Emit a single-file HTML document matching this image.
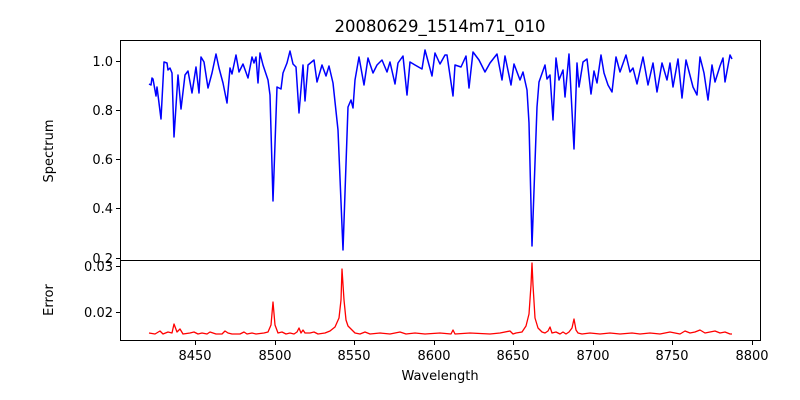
<!DOCTYPE html>
<html><head><meta charset="utf-8"><style>body{margin:0;background:#fff}svg{display:block;font-family:"DejaVu Sans","Liberation Sans",sans-serif}</style></head><body>
<svg width="800" height="400" viewBox="0 0 800 400" xmlns="http://www.w3.org/2000/svg">
<text x="440" y="32" font-size="16.5" text-anchor="middle">20080629_1514m71_010</text>
<polyline fill="none" stroke="#0000ff" stroke-width="1.5" stroke-linejoin="round" points="149,84 151,85 152,78 153,79 156,96 157,87 161,119 164,62 167,63 168,70 170,68 172,73 174,137 178,75 181,109 185,75 188,71 192,93 196,67 199,93 201,57 204,62 208,88 212,73 216,54 219,68 223,83 227,103 230,68 232,74 236,55 239,72 243,64 248,78 252,57 254,63 256,57 258,83 260,53 263,65 268,80 270,95 273,201 277,87 281,89 283,73 287,63 290,51 293,64 296,67 299,113 303,65 305,101 308,65 314,60 317,82 322,65 326,76 329,66 333,83 338,130 343,250 348,107 351,100 353,108 355,80 359,57 364,85 368,58 373,73 377,65 382,60 387,72 390,62 395,84 398,63 403,56 407,95 410,62 415,65 422,69 425,50 432,76 435,53 440,64 445,55 447,55 453,96 455,65 461,67 466,56 469,88 473,52 479,60 485,72 490,63 497,54 502,80 505,56 511,85 514,64 520,80 523,72 527,90 529,123 532,246 537,107 539,82 545,65 547,79 550,75 553,120 556,58 559,80 563,70 565,97 569,54 574,149 577,63 579,87 583,62 587,59 591,94 594,71 597,83 601,55 604,73 608,85 612,92 616,57 620,72 626,55 630,72 633,68 637,84 643,57 648,85 653,63 657,92 662,63 667,80 670,63 673,87 678,59 682,98 686,60 693,87 697,95 700,57 704,73 708,100 712,65 715,82 720,66 723,58 725,82 730,55 732,59"/>
<polyline fill="none" stroke="#ff0000" stroke-width="1.3" stroke-linejoin="round" points="149,333 155,334 160,331 163,334 168,332 172,333 174,324 177,332 180,329 183,334 190,333 194,332 198,334 202,333 207,334 210,332 216,334 222,334 225,331 228,333 232,334 240,334 244,332 247,334 252,333 256,334 264,333 268,332 271,325 273,302 275,325 278,333 282,332 286,334 290,333 294,334 297,332 299,328 301,333 303,330 305,333 310,333 314,332 318,334 325,333 330,331 335,327 339,318 341,300 342,269 344,300 346,320 348,326 351,329 355,333 360,334 365,332 370,334 380,333 390,334 400,332 406,334 415,333 425,334 440,333 451,334 453,330 455,334 470,333 490,334 500,333 510,331 513,334 516,333 522,332 526,326 529,314 531,285 532,263 533,285 535,318 538,328 542,332 545,333 548,331 550,327 552,333 556,332 560,334 563,332 566,334 569,332 572,328 574,319 576,330 578,333 582,334 590,333 600,334 610,333 620,334 632,333 640,334 650,333 660,334 670,332 680,334 685,331 690,333 695,332 700,330 705,333 710,332 715,331 720,333 725,332 730,334 732,334"/>
<g fill="none" stroke="#000" stroke-width="1">
<rect x="120.5" y="40.5" width="640" height="220"/>
<rect x="120.5" y="260.5" width="640" height="80"/>
</g>
<g stroke="#000" stroke-width="1">
<line x1="116" x2="120" y1="61.5" y2="61.5"/><line x1="116" x2="120" y1="110.5" y2="110.5"/><line x1="116" x2="120" y1="159.5" y2="159.5"/><line x1="116" x2="120" y1="208.5" y2="208.5"/><line x1="116" x2="120" y1="258.5" y2="258.5"/>
<line x1="116" x2="120" y1="266.5" y2="266.5"/><line x1="116" x2="120" y1="312.5" y2="312.5"/>
<line x1="195.5" x2="195.5" y1="341" y2="345"/><line x1="275.5" x2="275.5" y1="341" y2="345"/><line x1="354.5" x2="354.5" y1="341" y2="345"/><line x1="434.5" x2="434.5" y1="341" y2="345"/><line x1="513.5" x2="513.5" y1="341" y2="345"/><line x1="593.5" x2="593.5" y1="341" y2="345"/><line x1="672.5" x2="672.5" y1="341" y2="345"/><line x1="752.5" x2="752.5" y1="341" y2="345"/>
</g>
<g font-size="13" text-anchor="end">
<text x="113" y="66">1.0</text><text x="113" y="115">0.8</text><text x="113" y="164">0.6</text><text x="113" y="213">0.4</text><text x="113" y="263">0.2</text>
<text x="113" y="271">0.03</text><text x="113" y="317">0.02</text>
</g>
<g font-size="13" text-anchor="middle">
<text x="195" y="360">8450</text><text x="275" y="360">8500</text><text x="354" y="360">8550</text><text x="434" y="360">8600</text><text x="513" y="360">8650</text><text x="593" y="360">8700</text><text x="672" y="360">8750</text><text x="752" y="360">8800</text>
<text x="440" y="380">Wavelength</text>
<text transform="translate(53,151) rotate(-90)">Spectrum</text>
<text transform="translate(53,300) rotate(-90)">Error</text>
</g>
</svg>
</body></html>
